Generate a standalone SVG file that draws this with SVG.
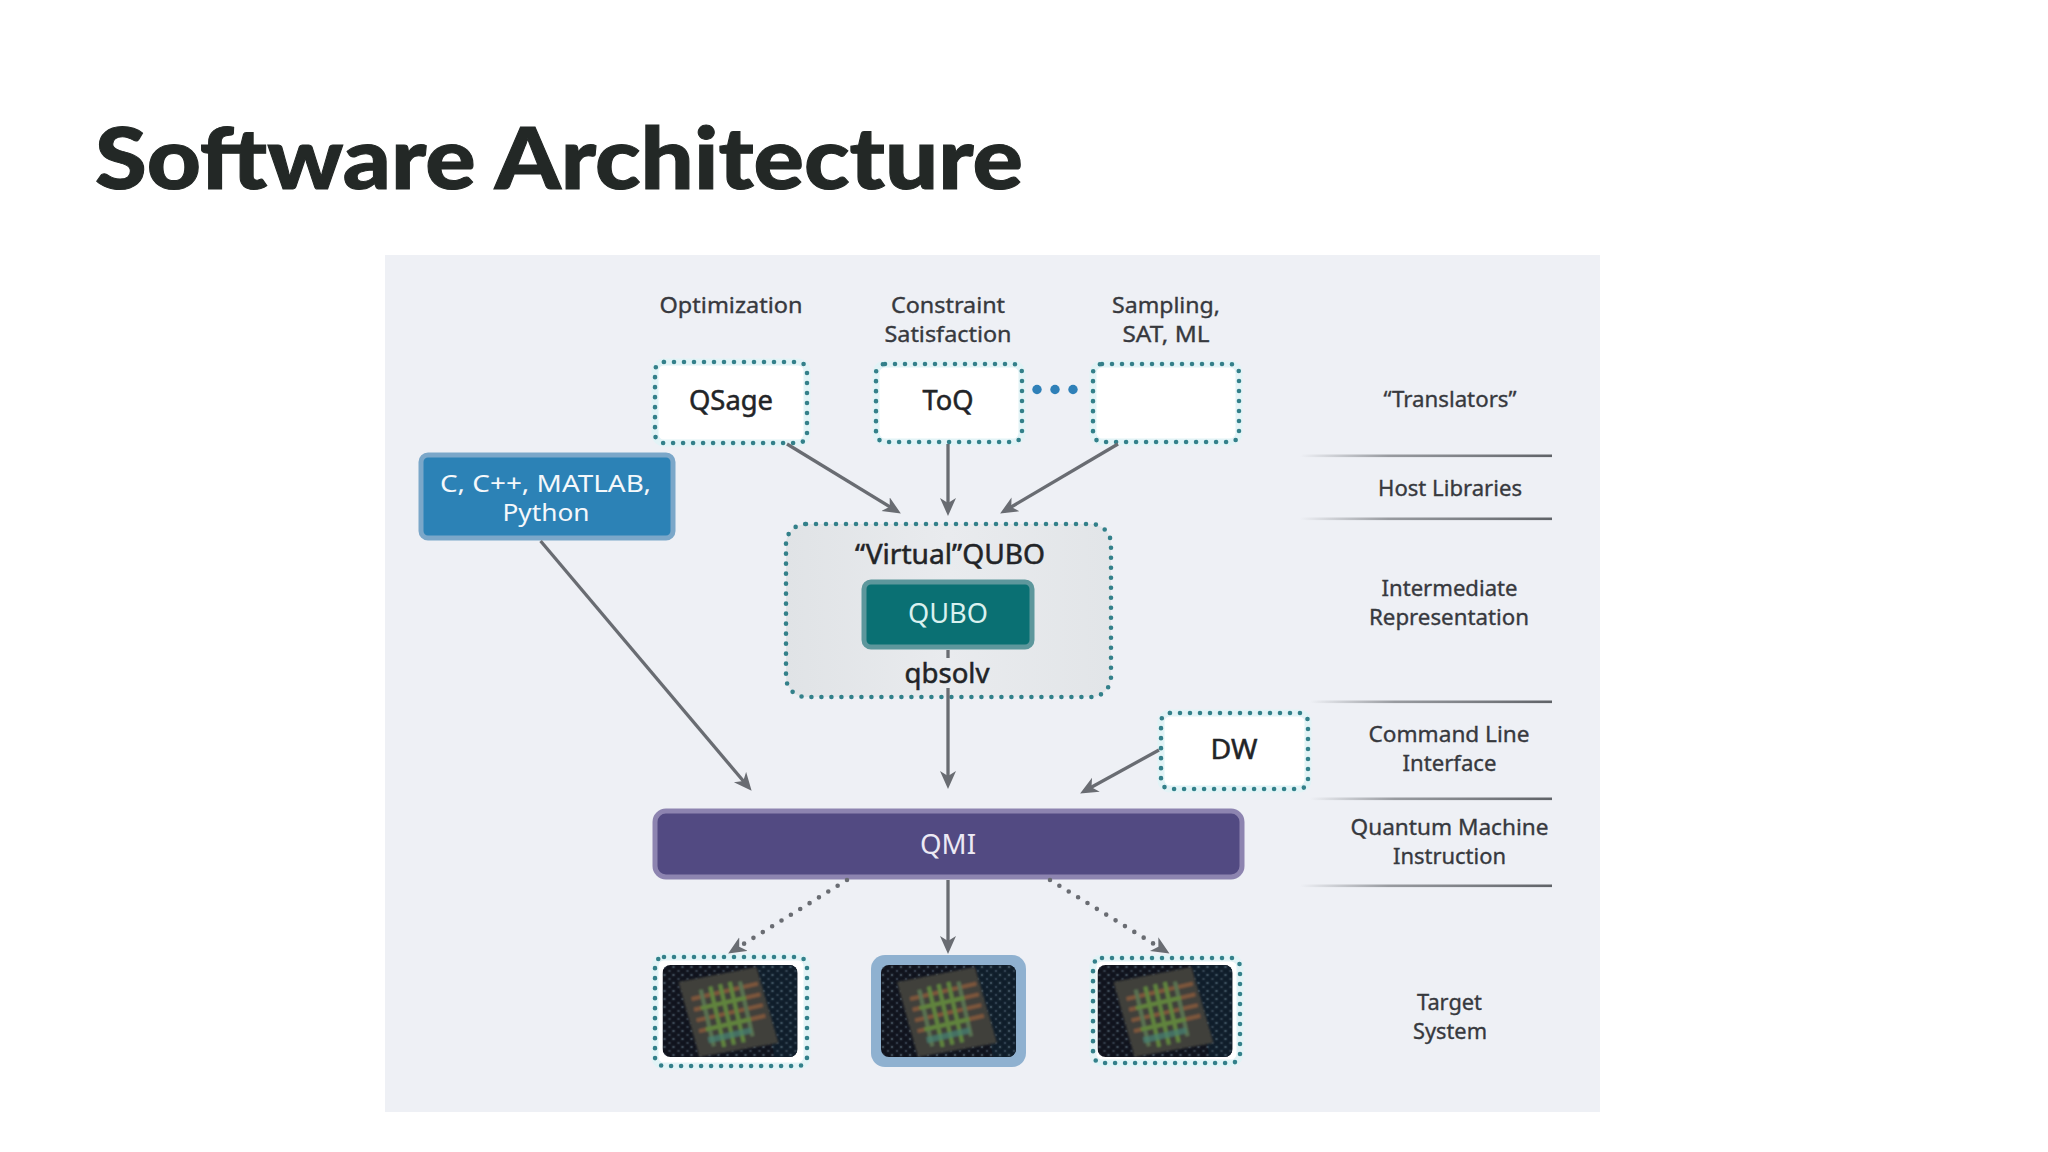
<svg xmlns="http://www.w3.org/2000/svg" width="2048" height="1152" viewBox="0 0 2048 1152">
<style>
.t{font-family:"Noto Sans","Open Sans","DejaVu Sans",sans-serif;text-anchor:middle;fill:#37393e;stroke:#37393e;stroke-width:.35;font-size:22px}
.n{font-size:27px;fill:#222427;stroke:#222427;stroke-width:.5}
.w{fill:#f4f8fb;stroke:none;font-size:26px}
.halo{fill:#fff;stroke:#e2f3f6;stroke-width:7}
.dot{fill:none;stroke:#33808a;stroke-width:4.6;stroke-linecap:round;stroke-dasharray:0 10}
.c{fill:none;stroke:#696c72;stroke-width:3.3}
.d{fill:none;stroke:#696c72;stroke-width:4.6;stroke-linecap:round;stroke-dasharray:0 11}
</style>
<defs>
<marker id="ah" markerUnits="userSpaceOnUse" markerWidth="20" markerHeight="18" refX="13" refY="8" orient="auto"><path d="M18,8 L0,0 L5,8 L0,16 Z" fill="#696c72"/></marker>
<linearGradient id="fade" x1="0" x2="1" y1="0" y2="0"><stop offset="0" stop-color="#6a6d72" stop-opacity="0"/><stop offset=".35" stop-color="#6a6d72" stop-opacity=".65"/><stop offset="1" stop-color="#5f6267"/></linearGradient>
<linearGradient id="vq" x1="0" x2="1" y1="0" y2="0"><stop offset="0" stop-color="#e0e3e6"/><stop offset=".5" stop-color="#e9ebee"/><stop offset="1" stop-color="#e2e5e8"/></linearGradient>
<pattern id="sp" width="9" height="8" patternUnits="userSpaceOnUse"><circle cx="2" cy="2" r="1" fill="#7d93a3"/><circle cx="7" cy="6" r=".9" fill="#63798a"/></pattern>
<filter id="b" x="-10%" y="-10%" width="120%" height="120%"><feGaussianBlur stdDeviation="1.1"/></filter>
<clipPath id="cc"><rect width="135" height="92" rx="8"/></clipPath>
<g id="chip" clip-path="url(#cc)">
<rect width="135" height="92" fill="#10131d"/>
<polygon points="94,0 135,0 135,92 112,92" fill="#0f1d2a"/>
<rect width="135" height="92" fill="url(#sp)" opacity=".7" filter="url(#b)"/>
<rect width="135" height="92" fill="url(#sp)" opacity=".35"/>
<g filter="url(#b)">
<polygon points="16,17 94,2 116,78 37,92" fill="#3f3f3b"/>
<g transform="rotate(-13 66 47)" opacity=".85">
<g fill="#8a5c3c">
<rect x="33" y="24" width="68" height="4"/><rect x="33" y="35" width="68" height="4"/><rect x="33" y="46" width="68" height="4"/><rect x="33" y="57" width="68" height="4"/>
</g>
<g fill="#66913f">
<rect x="42" y="19" width="4" height="58" fill="#5f7c55"/><rect x="52" y="18" width="4" height="62"/><rect x="62" y="18" width="4" height="62"/><rect x="72" y="18" width="4" height="62"/><rect x="82" y="20" width="4" height="56" fill="#5f7c55"/>
<rect x="40" y="35" width="46" height="4"/><rect x="40" y="57" width="46" height="4"/>
<rect x="40" y="67" width="44" height="6" fill="#4a8c7c" opacity=".75"/>
</g>
</g>
</g>
</g>
</defs>

<rect id="bg" width="2048" height="1152" fill="#fff"/>
<text id="title" x="95" y="189" textLength="928" lengthAdjust="spacingAndGlyphs" style="font-family:Lato,'Liberation Sans',sans-serif;font-weight:900;font-size:85px;fill:#232826;stroke:#232826;stroke-width:1">Software Architecture</text>
<rect id="panel" x="385" y="255" width="1215" height="857" fill="#eef0f5"/>

<g id="layer-lines">
<rect x="1300" y="454.500" width="252" height="2.600" fill="url(#fade)"/>
<rect x="1300" y="517.500" width="252" height="2.600" fill="url(#fade)"/>
<rect x="1310" y="700.500" width="242" height="2.600" fill="url(#fade)"/>
<rect x="1310" y="797.500" width="242" height="2.600" fill="url(#fade)"/>
<rect x="1300" y="884.500" width="252" height="2.600" fill="url(#fade)"/>
</g>

<g id="layer-labels">
<text class="t" x="1450" y="407" textLength="133" lengthAdjust="spacingAndGlyphs">“Translators”</text>
<text class="t" x="1450" y="496" textLength="144" lengthAdjust="spacingAndGlyphs">Host Libraries</text>
<text class="t" x="1449.500" y="596" textLength="136" lengthAdjust="spacingAndGlyphs">Intermediate</text>
<text class="t" x="1449" y="625" textLength="160" lengthAdjust="spacingAndGlyphs">Representation</text>
<text class="t" x="1449" y="742" textLength="161" lengthAdjust="spacingAndGlyphs">Command Line</text>
<text class="t" x="1449.500" y="771" textLength="94" lengthAdjust="spacingAndGlyphs">Interface</text>
<text class="t" x="1449.500" y="835" textLength="198" lengthAdjust="spacingAndGlyphs">Quantum Machine</text>
<text class="t" x="1449.500" y="864" textLength="113" lengthAdjust="spacingAndGlyphs">Instruction</text>
<text class="t" x="1449.500" y="1010" textLength="65" lengthAdjust="spacingAndGlyphs">Target</text>
<text class="t" x="1450" y="1039" textLength="74" lengthAdjust="spacingAndGlyphs">System</text>
</g>

<g id="column-labels">
<text class="t" x="731" y="313" textLength="143" lengthAdjust="spacingAndGlyphs">Optimization</text>
<text class="t" x="948" y="313" textLength="114" lengthAdjust="spacingAndGlyphs">Constraint</text>
<text class="t" x="948" y="342" textLength="127" lengthAdjust="spacingAndGlyphs">Satisfaction</text>
<text class="t" x="1166" y="313" textLength="108" lengthAdjust="spacingAndGlyphs">Sampling,</text>
<text class="t" x="1166" y="342" textLength="87" lengthAdjust="spacingAndGlyphs">SAT, ML</text>
</g>

<g id="node-qsage">
<rect class="halo" x="655" y="362" width="152" height="81" rx="9"/><rect class="dot" x="655" y="362" width="152" height="81" rx="9"/>
<text class="t n" x="731" y="410" textLength="84" lengthAdjust="spacingAndGlyphs">QSage</text>
</g>
<g id="node-toq">
<rect class="halo" x="876" y="364" width="146" height="78" rx="9"/><rect class="dot" x="876" y="364" width="146" height="78" rx="9"/>
<text class="t n" x="948" y="410" textLength="51" lengthAdjust="spacingAndGlyphs">ToQ</text>
</g>
<g id="ellipsis" fill="#2f80b8">
<circle cx="1037" cy="389.500" r="4.700"/><circle cx="1055" cy="389.500" r="4.700"/><circle cx="1073" cy="389.500" r="4.700"/>
</g>
<g id="node-empty">
<rect class="halo" x="1093" y="364" width="146" height="78" rx="9"/><rect class="dot" x="1093" y="364" width="146" height="78" rx="9"/>
</g>
<g id="node-languages">
<rect x="421" y="455" width="252" height="83" rx="7" fill="#2c82b6" stroke="#7ba7c9" stroke-width="5"/>
<text class="t w" x="545.500" y="492" textLength="211" lengthAdjust="spacingAndGlyphs" style="font-size:24px">C, C++, MATLAB,</text>
<text class="t w" x="546" y="521" textLength="87" lengthAdjust="spacingAndGlyphs" style="font-size:24px">Python</text>
</g>
<g id="node-virtual">
<rect x="786" y="524" width="325" height="173" rx="20" fill="url(#vq)"/><rect class="dot" x="786" y="524" width="325" height="173" rx="20"/>
<text class="t n" x="950" y="564" textLength="190" lengthAdjust="spacingAndGlyphs">“Virtual”QUBO</text>
</g>
<g id="node-qubo">
<rect x="864" y="582" width="168" height="65" rx="7" fill="#0a7073" stroke="#5d979c" stroke-width="5"/>
<text class="t w" x="948" y="623" textLength="80" lengthAdjust="spacingAndGlyphs" style="fill:#d9f1ef;font-size:27px">QUBO</text>
</g>
<text id="label-qbsolv" class="t n" x="947" y="683" textLength="85" lengthAdjust="spacingAndGlyphs">qbsolv</text>
<g id="node-dw">
<rect class="halo" x="1161" y="713" width="147" height="76" rx="9"/><rect class="dot" x="1161" y="713" width="147" height="76" rx="9"/>
<text class="t n" x="1234" y="759" textLength="47" lengthAdjust="spacingAndGlyphs">DW</text>
</g>
<g id="node-qmi">
<rect x="655" y="811" width="587" height="66" rx="11" fill="#524a82" stroke="#8d84b0" stroke-width="5"/>
<text class="t w" x="948" y="854" textLength="56" lengthAdjust="spacingAndGlyphs" style="fill:#ece9f4;font-size:27px">QMI</text>
</g>
<g id="node-target-left">
<rect class="halo" x="655" y="957" width="152" height="109" rx="9"/><rect class="dot" x="655" y="957" width="152" height="109" rx="9"/>
<use href="#chip" x="662.500" y="965"/>
</g>
<g id="node-target-center">
<rect x="871" y="955" width="155" height="112" rx="14" fill="#8fb1d0"/>
<use href="#chip" x="881" y="965"/>
</g>
<g id="node-target-right">
<rect class="halo" x="1093" y="958" width="147" height="105" rx="9"/><rect class="dot" x="1093" y="958" width="147" height="105" rx="9"/>
<use href="#chip" x="1097.500" y="965"/>
</g>

<g id="connectors">
<line class="c" x1="787" y1="444" x2="896.600" y2="510.900" marker-end="url(#ah)"/>
<line class="c" x1="948" y1="444" x2="948" y2="511" marker-end="url(#ah)"/>
<line class="c" x1="1118" y1="444" x2="1004.400" y2="511" marker-end="url(#ah)"/>
<line class="c" x1="540.600" y1="541" x2="748.400" y2="787" marker-end="url(#ah)"/>
<line class="c" x1="948" y1="650" x2="948" y2="658"/>
<line class="c" x1="948" y1="688" x2="948" y2="784" marker-end="url(#ah)"/>
<line class="c" x1="1159" y1="750" x2="1084.500" y2="791" marker-end="url(#ah)"/>
<line class="c" x1="948" y1="880" x2="948" y2="949" marker-end="url(#ah)"/>
<line class="d" x1="847" y1="880" x2="732.400" y2="950.900" marker-end="url(#ah)"/>
<line class="d" x1="1050" y1="880" x2="1165.200" y2="950.900" marker-end="url(#ah)"/>
</g>
</svg>
